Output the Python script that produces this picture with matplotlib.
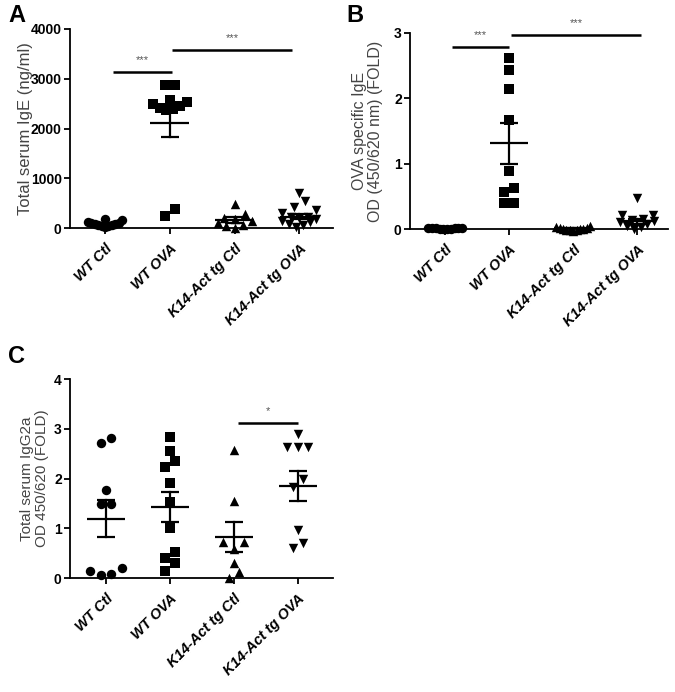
import numpy as np
import matplotlib
matplotlib.use("Agg")
import matplotlib.pyplot as plt

plt.rcParams['font.family'] = ['Liberation Sans', 'DejaVu Sans']

# ---------------- data ----------------
categories = ["WT Ctl", "WT OVA", "K14-Act tg Ctl", "K14-Act tg OVA"]

# Panel A: Total serum IgE (ng/ml)
a_wt_ctl = [20, 35, 50, 60, 70, 80, 90, 100, 110, 130, 170, 190]
a_wt_ova = [2880, 2880, 2580, 2540, 2500, 2460, 2420, 2400, 2380, 376, 240]
a_k14_ctl = [490, 280, 200, 180, 150, 110, 70, 40, 10]
a_k14_ova = [700, 540, 420, 360, 300, 230, 220, 210, 180, 150, 120, 90, 60, 30]
a_mean = [80, 2120, 160, 230]
a_sem = [15, 300, 55, 55]
a_ticks = [0, 1000, 2000, 3000, 4000]

# Panel B: OVA specific IgE (FOLD)
b_wt_ctl = [0.0, 0.005, 0.01, 0.01, 0.015, 0.02, 0.02, 0.01, 0.0, 0.005]
b_wt_ova = [2.62, 2.43, 2.15, 1.67, 0.89, 0.63, 0.57, 0.40, 0.40]
b_k14_ctl = [-0.03, -0.02, -0.01, 0.0, 0.0, 0.01, 0.02, 0.03, 0.05, -0.01, 0.0]
b_k14_ova = [0.47, 0.22, 0.21, 0.15, 0.14, 0.12, 0.10, 0.08, 0.05, 0.03, 0.0]
b_mean = [0.01, 1.31, 0.01, 0.12]
b_sem = [0.003, 0.31, 0.01, 0.04]
b_ticks = [0, 1, 2, 3]

# Panel C: Total serum IgG2a (FOLD)
c_wt_ctl = [2.81, 2.71, 1.76, 1.49, 1.49, 0.15, 0.07, 0.09, 0.20]
c_wt_ova = [2.83, 2.55, 2.35, 2.23, 1.91, 1.52, 1.00, 0.52, 0.40, 0.30, 0.15]
c_k14_ctl = [2.58, 1.54, 0.72, 0.72, 0.58, 0.30, 0.13, 0.01]
c_k14_ova = [2.89, 2.63, 2.63, 2.63, 1.98, 1.83, 0.97, 0.70, 0.61]
c_mean = [1.19, 1.42, 0.82, 1.85]
c_sem = [0.37, 0.30, 0.30, 0.31]
c_ticks = [0, 1, 2, 3, 4]

# significance bars: (x_start, x_end, y, label)
a_sig = [(0.13, 1.03, 3130, "***"), (1.03, 2.89, 3580, "***")]
b_sig = [(0.11, 1.0, 2.79, "***"), (1.03, 3.06, 2.97, "***")]
c_sig = [(2.06, 3.0, 3.12, "*")]

markers = ["o", "s", "^", "v"]

W, H = 675, 692
fig = plt.figure(figsize=(W / 100, H / 100), dpi=100)


def swarm_offsets(ax, vals, row_px=8.0, step_px=10.5, max_span_px=34.0):
    vals = np.asarray(vals, dtype=float)
    pts = ax.transData.transform(np.column_stack([np.zeros(len(vals)), vals]))
    ypx = pts[:, 1]
    x0 = ax.transData.transform((0, 0))[0]
    x1 = ax.transData.transform((1, 0))[0]
    px_per_unit = x1 - x0
    order = np.argsort(-vals, kind="stable")[::-1]
    rows = []
    cur = [order[0]]
    for i in order[1:]:
        if ypx[i] - ypx[cur[0]] < row_px:
            cur.append(i)
        else:
            rows.append(cur)
            cur = [i]
    rows.append(cur)
    offs = np.zeros(len(vals))
    for row in rows:
        n = len(row)
        if n == 1:
            continue
        step = min(step_px, max_span_px / (n - 1))
        if n % 2 == 1:
            slots = [0]
            k = 1
            while len(slots) < n:
                slots += [-k, k]
                k += 1
        else:
            slots = []
            k = 0.5
            while len(slots) < n:
                slots += [-k, k]
                k += 1
        slots = slots[:n]
        for idx, s in zip(row, slots):
            offs[idx] = s * step / px_per_unit
    return offs


def panel(rect, groups, means, sems, ticks, ylim, xlim, ylabel, sigs, letter, letter_xy,
          ylabel_x, ylabel_size):
    ax = fig.add_axes(rect)
    ax.set_xlim(*xlim)
    ax.set_ylim(*ylim)
    for sp in ["top", "right"]:
        ax.spines[sp].set_visible(False)
    for sp in ["left", "bottom"]:
        ax.spines[sp].set_linewidth(1.3)
    ax.set_yticks(ticks)
    ax.set_yticklabels([str(t) for t in ticks], fontsize=10, fontweight="bold")
    ax.set_xticks(range(len(categories)))
    ax.set_xticklabels(categories, rotation=45, ha="right", rotation_mode="anchor",
                       fontsize=10.5, fontweight="bold", fontstyle="italic")
    ax.tick_params(axis="both", direction="out", length=4, width=1.3, pad=2)
    ax.tick_params(axis="x", pad=6)
    for i, vals in enumerate(groups):
        offs = swarm_offsets(ax, vals)
        ax.scatter(i + offs, vals, marker=markers[i], s=46, color="black",
                   linewidths=0, zorder=3, clip_on=False)
    for i, (m, s) in enumerate(zip(means, sems)):
        ax.plot([i - 0.3, i + 0.3], [m, m], color="black", lw=1.6, zorder=4,
                solid_capstyle="butt")
        ax.plot([i, i], [m - s, m + s], color="black", lw=1.6, zorder=4)
        for yy in (m - s, m + s):
            ax.plot([i - 0.14, i + 0.14], [yy, yy], color="black", lw=1.6, zorder=4,
                    solid_capstyle="butt")
    span = ylim[1] - ylim[0]
    for x0, x1, y, lab in sigs:
        ax.plot([x0, x1], [y, y], color="black", lw=1.8, clip_on=False,
                solid_capstyle="butt")
        ax.text((x0 + x1) / 2, y + 0.035 * span, lab, ha="center", va="bottom",
                fontsize=8, color="#555555")
    ax.set_ylabel(ylabel, fontsize=ylabel_size, color="#444444", linespacing=1.1)
    ax.yaxis.set_label_coords(ylabel_x, 0.5)
    fig.text(letter_xy[0], letter_xy[1], letter, fontsize=17, fontweight="bold",
             ha="left", va="top")
    return ax


def rect_px(left, right, top, bottom):
    return [left / W, 1 - bottom / H, (right - left) / W, (bottom - top) / H]


panel(rect_px(70, 333, 29, 228), [a_wt_ctl, a_wt_ova, a_k14_ctl, a_k14_ova],
      a_mean, a_sem, a_ticks, (0, 4000), (-0.54, 3.52),
      "Total serum IgE (ng/ml)", a_sig, "A", (8 / W, 1 - 4 / H), -0.14, 12)

panel(rect_px(410, 668, 33, 229), [b_wt_ctl, b_wt_ova, b_k14_ctl, b_k14_ova],
      b_mean, b_sem, b_ticks, (0, 3), (-0.55, 3.48),
      "OVA specific IgE\nOD (450/620 nm) (FOLD)", b_sig, "B", (346 / W, 1 - 4 / H),
      -0.105, 11.5)

panel(rect_px(70, 333, 379, 578), [c_wt_ctl, c_wt_ova, c_k14_ctl, c_k14_ova],
      c_mean, c_sem, c_ticks, (0, 4), (-0.56, 3.55),
      "Total serum IgG2a\nOD 450/620 (FOLD)", c_sig, "C", (8 / W, 1 - 345 / H),
      -0.08, 11)

fig.savefig("out.png", dpi=100)
